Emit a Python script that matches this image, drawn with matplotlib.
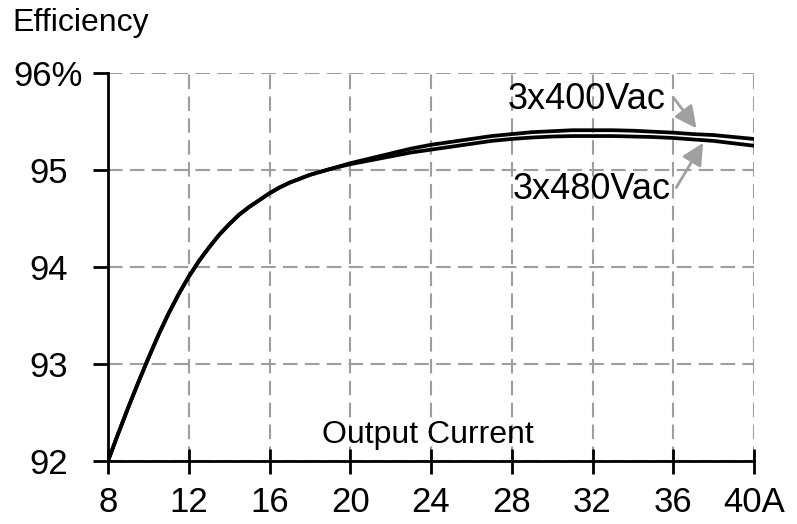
import numpy as np
import matplotlib.pyplot as plt

plt.rcParams['font.family'] = ['Liberation Sans', 'DejaVu Sans']

# efficiency curves
current = [8, 8.5, 9, 9.5, 10, 10.5, 11, 11.5, 12, 12.5, 13, 13.5, 14, 14.5, 15, 15.5, 16,
           16.5, 17, 17.5, 18, 18.5, 19, 19.5, 20, 21, 22, 23, 24, 25, 26, 27, 28, 29, 30,
           31, 32, 33, 34, 35, 36, 37, 38, 39, 40]
eff_400 = [92.0, 92.28, 92.55, 92.81, 93.06, 93.3, 93.52, 93.72, 93.9, 94.06, 94.2, 94.33, 94.44,
           94.54, 94.62, 94.69, 94.76, 94.82, 94.87, 94.91, 94.95, 94.98, 95.01, 95.04, 95.07,
           95.12, 95.17, 95.22, 95.26, 95.29, 95.32, 95.35, 95.37, 95.39, 95.4, 95.41, 95.41,
           95.41, 95.405, 95.395, 95.385, 95.37, 95.36, 95.34, 95.32]
eff_480 = [92.0, 92.28, 92.55, 92.81, 93.06, 93.3, 93.52, 93.72, 93.9, 94.06, 94.2, 94.33, 94.44,
           94.54, 94.62, 94.69, 94.76, 94.82, 94.87, 94.91, 94.95, 94.98, 95.01, 95.035, 95.06,
           95.1, 95.14, 95.18, 95.21, 95.24, 95.27, 95.3, 95.32, 95.335, 95.345, 95.35, 95.35,
           95.35, 95.345, 95.34, 95.33, 95.315, 95.3, 95.275, 95.25]

xticks = [8, 12, 16, 20, 24, 28, 32, 36, 40]
xlabels = ['8', '12', '16', '20', '24', '28', '32', '36', '40A']
yticks = [92, 93, 94, 95, 96]
ylabels = ['92', '93', '94', '95', '96%']

fig = plt.figure(figsize=(7.97, 5.24), dpi=100)
ax = fig.add_axes([108 / 797, 1 - 461 / 524, (754 - 108) / 797, (461 - 73) / 524])

ax.plot(current, eff_400, color='black', lw=2.7, solid_capstyle='butt', zorder=3)
ax.plot(current, eff_480, color='black', lw=2.7, solid_capstyle='butt', zorder=3)

ax.set_xlim(8, 40)
ax.set_ylim(92, 96)
ax.set_xticks(xticks)
ax.set_xticklabels(xlabels)
ax.set_yticks(yticks)
ax.set_yticklabels(ylabels, ha='center')

ax.grid(True, color='#9e9e9e', lw=1.5, linestyle=(0, (7, 3.5)))
ax.set_axisbelow(True)
for s in ['top', 'right']:
    ax.spines[s].set_visible(False)
for s in ['left', 'bottom']:
    ax.spines[s].set_linewidth(2)
ax.tick_params(axis='y', direction='out', length=11, width=2, pad=32, labelsize=25)
ax.tick_params(axis='x', direction='inout', length=18, width=2, pad=9, labelsize=25)

ax.text(23.84, 92.27, 'Output Current', fontsize=23, ha='center', va='center')
fig.text(12 / 797, 1 - 8 / 524, 'Efficiency', fontsize=23, ha='left', va='top')

arrow = dict(arrowstyle='-|>,head_length=0.6,head_width=0.3', color='#a0a0a0', lw=2,
             mutation_scale=22, shrinkA=0, shrinkB=0)
ax.text(27.8, 95.73, '3x400Vac', fontsize=26, ha='left', va='center')
ax.annotate('', xy=(37.15, 95.43), xytext=(36.0, 95.75), arrowprops=arrow)
ax.text(28.05, 94.8, '3x480Vac', fontsize=26, ha='left', va='center')
ax.annotate('', xy=(37.48, 95.28), xytext=(36.15, 94.82), arrowprops=arrow)

fig.savefig('out.png', dpi=100)
